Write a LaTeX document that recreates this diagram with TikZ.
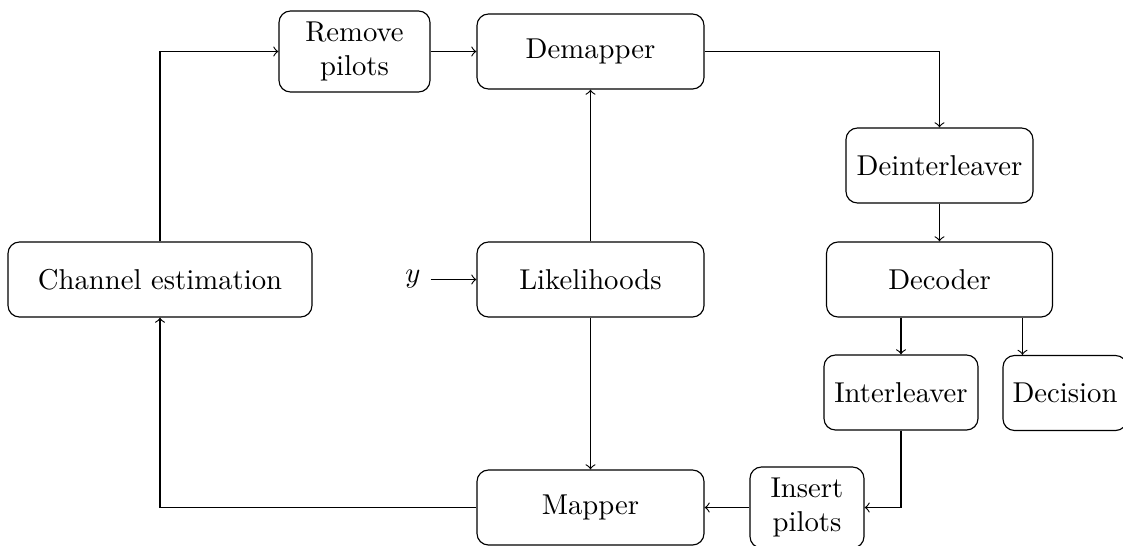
\documentclass[tikz,border=0pt]{standalone}
\usetikzlibrary{calc}
% one drawing unit
\newcommand\pxu{0.34843pt}
\begin{document}
\begin{tikzpicture}[x=\pxu, y=-\pxu,
  blk/.style={draw, rounded corners=4pt, align=center, inner sep=0pt},
  flow/.style={->}]
\useasboundingbox (0,0) rectangle (1123,545);

% receiver blocks
\node[blk, minimum width=304*\pxu, minimum height=75*\pxu] (chest) at (160,279.5) {Channel estimation};
\node[blk, minimum width=151*\pxu, minimum height=81*\pxu] (rmp) at (354.5,51.5) {Remove\\pilots};
\node[blk, minimum width=227*\pxu, minimum height=75*\pxu] (dmp) at (590.5,51.5) {Demapper};
\node[blk, minimum width=227*\pxu, minimum height=75*\pxu] (lik) at (590.5,279.5) {Likelihoods};
\node[blk, minimum width=227*\pxu, minimum height=75*\pxu] (map) at (590.5,507.5) {Mapper};
\node[blk, minimum width=187*\pxu, minimum height=75*\pxu] (deint) at (939.5,165.5) {Deinterleaver};
\node[blk, minimum width=226*\pxu, minimum height=75*\pxu] (dec) at (939.5,279.5) {Decoder};
\node[blk, minimum width=154*\pxu, minimum height=75*\pxu] (intl) at (901,392.5) {Interleaver};
\node[blk, minimum width=124*\pxu, minimum height=75*\pxu] (dcs) at (1065,393) {Decision};
\node[blk, minimum width=114*\pxu, minimum height=81*\pxu] (insp) at (807,507.5) {Insert\\pilots};
\node (yin) at (413,279.5) {$y$};

% signal flow
\draw[flow] (yin) -- (lik);
\draw[flow] (lik) -- (dmp);
\draw[flow] (lik) -- (map);
\draw[flow] (chest.north) |- (rmp.west);
\draw[flow] (rmp) -- (dmp);
\draw[flow] (dmp.east) -| (deint.north);
\draw[flow] (deint) -- (dec);
\draw[flow] (dec.south -| intl.north) -- (intl.north);
\coordinate (dtap) at ([xshift=83*\pxu]dec.south);
\draw[flow] (dtap) -- (dtap |- dcs.north);
\draw[flow] (intl.south) |- (insp.east);
\draw[flow] (insp) -- (map);
\draw[flow] (map.west) -| (chest.south);
\end{tikzpicture}
\end{document}
